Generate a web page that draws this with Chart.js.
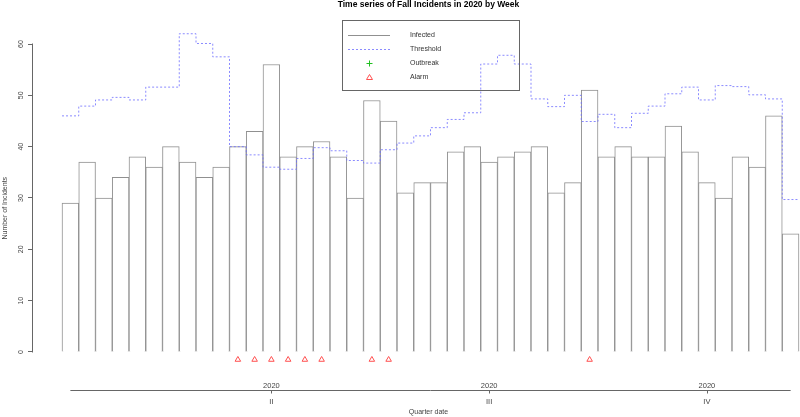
<!DOCTYPE html>
<html>
<head>
<meta charset="utf-8">
<title>Time series of Fall Incidents in 2020 by Week</title>
<script src="https://cdn.jsdelivr.net/npm/chart.js@4.4.1/dist/chart.umd.min.js"></script>
<style>
  html, body { margin: 0; padding: 0; background: #fff; overflow: hidden; width: 800px; height: 417px; }
  /* plot region runs a little past the window edge, like the R device */
  #wrap { position: relative; width: 830px; height: 417px; }
</style>
</head>
<body>
<div id="wrap"><canvas id="chart"></canvas></div>
<script>
// ========================================
// Data (week 1..44)
// ========================================
const infected = [29, 37, 30, 34, 38, 36, 40, 37, 34, 36, 40, 43, 56, 38, 40, 41, 38, 30, 49, 45, 31, 33,
                  33, 39, 40, 37, 38, 39, 40, 31, 33, 51, 38, 40, 38, 38, 44, 39, 33, 30, 38, 36, 46, 23];
const threshold = [46.0, 47.9, 49.1, 49.6, 49.1, 51.6, 51.6, 62.0, 60.1, 57.5, 40.0, 38.4, 36.0, 35.6, 37.7,
                   39.8, 39.2, 37.3, 36.8, 39.4, 40.7, 42.1, 43.7, 45.3, 46.6, 56.1, 57.8, 56.1, 49.3, 47.8,
                   50.0, 44.9, 46.3, 43.7, 46.5, 47.9, 50.3, 51.6, 49.1, 51.9, 51.7, 50.1, 49.3, 29.7];
const alarmWeeks = [11, 12, 13, 14, 15, 16, 19, 20, 32];
const outbreakWeeks = [];
const quarterWeeks = [13, 26, 39];
const quarterLabels = ['II', 'III', 'IV'];
const yearLabel = '2020';
const yTicks = [0, 10, 20, 30, 40, 50, 60];

// alarms sit just under the zero line, y range leaves room for them
const alarmLevel = -1.5;
const yBottom = -4;

const GREY = '#909090';
const BLUE = 'rgba(110, 110, 255, 0.8)';
const RED = '#ff5050';
const GREEN = '#20c020';
const TEXT = '#444';

Chart.defaults.font.family = "'Liberation Sans', Arial, sans-serif";
Chart.defaults.color = TEXT;

// ========================================
// Plugins
// ========================================

// place the weekly bars exactly across the plot (bar 1 left edge .. bar 44 right edge)
const weekPlacement = {
  id: 'weekPlacement',
  afterLayout(chart) {
    const xs = chart.scales.x;
    const area = chart.chartArea;
    const firstLeft = 62, lastRight = 799;
    const perWeek = (lastRight - firstLeft) / infected.length;
    xs.min = 0.5 - (firstLeft - area.left) / perWeek;
    xs.max = 0.5 + (area.right - firstLeft) / perWeek;
    xs.configure();
  }
};

// R style y axis line that stops at the first and last tick
const yAxisLine = {
  id: 'yAxisLine',
  afterDraw(chart) {
    const ys = chart.scales.y;
    const ctx = chart.ctx;
    const x = Math.round(chart.chartArea.left) + 0.5;
    ctx.save();
    ctx.strokeStyle = '#666';
    ctx.lineWidth = 1;
    ctx.beginPath();
    ctx.moveTo(x, ys.getPixelForValue(yTicks[0]) + 0.5);
    ctx.lineTo(x, ys.getPixelForValue(yTicks[yTicks.length - 1]) - 0.5);
    ctx.stroke();
    ctx.restore();
  }
};

const boxLegend = {
  id: 'boxLegend',
  afterDraw(chart) {
    const ctx = chart.ctx;
    const left = 342, top = 20, width = 177, height = 70;
    ctx.save();
    ctx.strokeStyle = '#666';
    ctx.lineWidth = 1;
    ctx.strokeRect(left + 0.5, top + 0.5, width, height);

    ctx.font = "7px 'Liberation Sans', Arial, sans-serif";
    ctx.textBaseline = 'middle';
    ctx.textAlign = 'left';

    chart.data.datasets.forEach((ds, i) => {
      const y = Math.round(top + 15 + i * 14) + 0.5;
      const x0 = left + 6, x1 = left + 48, xm = Math.round((x0 + x1) / 2) + 0.5;
      ctx.strokeStyle = ds.borderColor;
      ctx.lineWidth = 1;
      if (ds.legendKind === 'solid' || ds.legendKind === 'dashed') {
        ctx.setLineDash(ds.legendKind === 'dashed' ? ds.borderDash : []);
        ctx.beginPath();
        ctx.moveTo(x0, y);
        ctx.lineTo(x1, y);
        ctx.stroke();
        ctx.setLineDash([]);
      } else if (ds.legendKind === 'cross') {
        ctx.beginPath();
        ctx.moveTo(xm - 3, y); ctx.lineTo(xm + 3, y);
        ctx.moveTo(xm, y - 3); ctx.lineTo(xm, y + 3);
        ctx.stroke();
      } else if (ds.legendKind === 'triangle') {
        ctx.beginPath();
        ctx.moveTo(xm, y - 3);
        ctx.lineTo(xm + 3, y + 2);
        ctx.lineTo(xm - 3, y + 2);
        ctx.closePath();
        ctx.stroke();
      }
      ctx.fillStyle = '#333';
      ctx.fillText(ds.label, left + 68, y);
    });
    ctx.restore();
  }
};

const quarterAxis = {
  id: 'quarterAxis',
  afterDraw(chart) {
    const ctx = chart.ctx;
    const xs = chart.scales.x;
    const y = Math.round(chart.scales.y.getPixelForValue(0) + 38) + 0.5;
    ctx.save();
    ctx.strokeStyle = '#666';
    ctx.lineWidth = 1;
    ctx.beginPath();
    ctx.moveTo(xs.getPixelForValue(1), y);
    ctx.lineTo(xs.getPixelForValue(infected.length), y);
    quarterWeeks.forEach(w => {
      const px = Math.round(xs.getPixelForValue(w)) + 0.5;
      ctx.moveTo(px, y);
      ctx.lineTo(px, y + 3);
    });
    ctx.stroke();
    ctx.restore();
  }
};

// ========================================
// Chart
// ========================================
const thresholdPoints = threshold.map((v, i) => ({ x: i + 0.5, y: v }));
thresholdPoints.push({ x: threshold.length + 0.5, y: threshold[threshold.length - 1] });

new Chart(document.getElementById('chart'), {
  type: 'bar',
  data: {
    datasets: [
      {
        label: 'Infected',
        legendKind: 'solid',
        data: infected.map((v, i) => ({ x: i + 1, y: v })),
        backgroundColor: '#ffffff',
        borderColor: GREY,
        borderWidth: 1,
        barPercentage: 1,
        categoryPercentage: 1,
        order: 2
      },
      {
        type: 'line',
        label: 'Threshold',
        legendKind: 'dashed',
        data: thresholdPoints,
        borderColor: BLUE,
        borderWidth: 1,
        borderDash: [2, 2],
        stepped: 'before',
        pointRadius: 0,
        fill: false,
        clip: false,
        order: 1
      },
      {
        type: 'line',
        label: 'Outbreak',
        legendKind: 'cross',
        data: outbreakWeeks.map(w => ({ x: w, y: alarmLevel })),
        showLine: false,
        pointStyle: 'cross',
        pointRadius: 3,
        borderColor: GREEN,
        backgroundColor: GREEN,
        clip: false,
        order: 0
      },
      {
        type: 'line',
        label: 'Alarm',
        legendKind: 'triangle',
        data: alarmWeeks.map(w => ({ x: w, y: alarmLevel })),
        showLine: false,
        pointStyle: 'triangle',
        pointRadius: 3.2,
        borderWidth: 1,
        borderColor: RED,
        backgroundColor: 'rgba(0,0,0,0)',
        clip: false,
        order: 0
      }
    ]
  },
  options: {
    responsive: true,
    maintainAspectRatio: false,
    animation: false,
    layout: { padding: 0 },
    plugins: {
      legend: { display: false },
      tooltip: { enabled: false },
      title: {
        display: true,
        text: 'Time series of Fall Incidents in 2020 by Week',
        color: '#000',
        fullSize: false,
        font: { size: 8.5, weight: 'bold' },
        padding: { top: 0, bottom: 33.8 }
      }
    },
    scales: {
      x: {
        type: 'linear',
        min: -1.3,
        max: 46.3,
        offset: false,
        grid: { display: false, drawTicks: false },
        border: { display: false },
        afterBuildTicks(scale) {
          scale.ticks = quarterWeeks.map(w => ({ value: w }));
        },
        afterFit(scale) {
          scale.height = 44.5;
        },
        ticks: {
          autoSkip: false,
          maxRotation: 0,
          padding: 5.5,
          color: TEXT,
          font: { size: 7.5, lineHeight: 2.13 },
          callback: (value) => {
            const k = quarterWeeks.indexOf(value);
            return k < 0 ? '' : [yearLabel, quarterLabels[k]];
          }
        },
        title: {
          display: true,
          text: 'Quarter date',
          color: TEXT,
          font: { size: 7 },
          padding: { top: 0, bottom: 1 }
        }
      },
      y: {
        min: yBottom,
        max: yTicks[yTicks.length - 1],
        grid: { display: true, drawOnChartArea: false, drawTicks: true, tickLength: 4, color: '#666' },
        border: { display: false },
        afterBuildTicks(scale) {
          scale.ticks = yTicks.map(v => ({ value: v }));
        },
        afterFit(scale) {
          scale.width = 32;
        },
        ticks: {
          minRotation: 90,
          maxRotation: 90,
          crossAlign: 'center',
          padding: 3,
          color: TEXT,
          font: { size: 7 }
        },
        title: {
          display: true,
          text: 'Number of Incidents',
          color: TEXT,
          font: { size: 7 },
          padding: { top: 1, bottom: 0 }
        }
      }
    }
  },
  plugins: [weekPlacement, yAxisLine, boxLegend, quarterAxis]
});
</script>
</body>
</html>
